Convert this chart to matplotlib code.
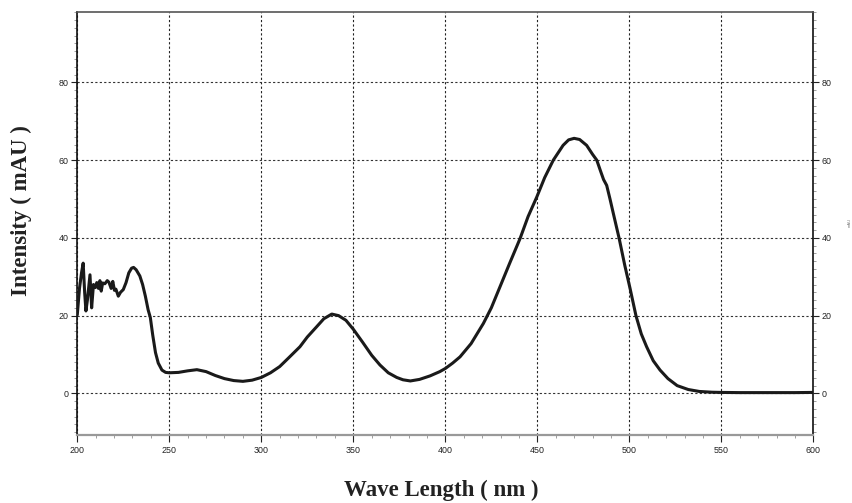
#!/usr/bin/env python
"""UV-Vis absorption spectrum (Intensity vs wave length)."""

import matplotlib

matplotlib.use("Agg")
import matplotlib.pyplot as plt
from matplotlib.ticker import MultipleLocator

# spectrum
wavelength = [
    200.0, 201.2, 202.3, 203.2, 204.0, 204.7, 205.5, 206.9, 207.8, 208.8,
    209.8, 210.6, 211.5, 212.3, 213.0, 213.8, 215.0, 216.3, 217.2, 218.4,
    219.3, 220.2, 221.0, 222.3, 223.5, 225.0, 226.5, 228.0, 229.5, 230.6,
    232.0, 234.0, 235.5, 237.0, 238.5, 239.7, 241.0, 242.5, 244.0, 246.0,
    248.0, 250.0, 255.0, 260.0, 265.0, 270.0, 275.0, 280.0, 285.0, 290.0,
    295.0, 300.0, 305.0, 310.0, 315.0, 321.0, 325.0, 330.0, 334.0, 338.3,
    342.0, 346.0, 350.0, 355.0, 360.0, 364.5, 369.0, 373.6, 377.0, 381.0,
    386.0, 391.7, 397.0, 400.0, 404.0, 408.0, 414.0, 420.7, 425.0, 429.7,
    435.0, 440.6, 445.0, 449.7, 454.0, 458.7, 464.0, 467.0, 470.0, 473.0,
    476.8, 480.0, 482.3, 484.5, 486.0, 487.7, 489.5, 491.3, 494.5, 497.5,
    500.4, 503.6, 506.5, 509.4, 513.0, 516.7, 521.0, 526.0, 532.0, 538.0,
    545.0, 550.0, 560.0, 575.0, 590.0, 600.0,
]
intensity = [
    20.2, 27.0, 31.0, 33.5, 26.0, 21.2, 24.0, 30.5, 22.0, 28.0,
    27.2, 28.5, 27.0, 29.0, 26.3, 28.4, 28.2, 29.0, 28.6, 27.0,
    28.8, 26.5, 26.8, 25.0, 26.0, 26.7, 28.5, 31.0, 32.2, 32.4,
    31.8, 30.2, 28.0, 25.0, 21.5, 19.5, 15.0, 10.5, 7.8, 6.0,
    5.4, 5.3, 5.4, 5.8, 6.1, 5.6, 4.6, 3.8, 3.3, 3.1,
    3.4, 4.1, 5.3, 6.9, 9.2, 12.0, 14.5, 17.1, 19.2, 20.4,
    20.0, 18.8, 16.5, 13.2, 9.8, 7.3, 5.3, 4.1, 3.5, 3.2,
    3.6, 4.5, 5.6, 6.4, 7.8, 9.4, 12.8, 18.0, 22.0, 27.4,
    33.5, 39.8, 45.5, 50.5, 55.5, 60.0, 63.8, 65.2, 65.6, 65.3,
    63.8, 61.5, 60.0, 57.0, 55.0, 53.5, 50.0, 46.3, 39.8, 33.0,
    27.0, 20.0, 15.3, 12.0, 8.4, 6.0, 3.8, 2.0, 1.0, 0.5,
    0.3, 0.25, 0.2, 0.2, 0.2, 0.25,
]
x_ticks = [200, 250, 300, 350, 400, 450, 500, 550, 600]
y_ticks = [0, 20, 40, 60, 80]

fig = plt.figure(figsize=(8.53, 5.03), dpi=100, facecolor="white")
ax = fig.add_axes([0.0906, 0.1352, 0.8629, 0.8410])

ax.plot(wavelength, intensity, color="#1a1a1a", lw=2.2,
        solid_joinstyle="round", solid_capstyle="round", zorder=3)

ax.set_xlim(200, 600)
ax.set_ylim(-10.7, 98.1)
ax.set_xticks(x_ticks)
ax.set_yticks(y_ticks)
ax.xaxis.set_minor_locator(MultipleLocator(10))
ax.yaxis.set_minor_locator(MultipleLocator(2))

# dotted grid
ax.grid(True, which="major", axis="x", color="#222222", lw=0.8,
        linestyle=(0, (2, 2)))
ax.grid(True, which="major", axis="y", color="#333333", lw=0.8,
        linestyle=(0, (2, 2)))

ax.tick_params(axis="y", which="both", left=True, right=True,
               labelleft=True, labelright=True, direction="out",
               color="#222222", labelcolor="#222222", pad=2, labelsize=6.4)
ax.tick_params(axis="y", which="major", length=4, width=0.8)
ax.tick_params(axis="y", which="minor", length=2.5, width=0.5, color="#777777")
ax.tick_params(axis="x", which="both", direction="out", color="#777777",
               labelcolor="#222222", pad=3, labelsize=6.4)
ax.tick_params(axis="x", which="major", length=5, width=0.8, color="#222222")
ax.tick_params(axis="x", which="minor", length=2.5, width=0.5)
for lab in ax.get_xticklabels() + ax.get_yticklabels():
    lab.set_fontfamily(["Liberation Sans", "DejaVu Sans"])

ax.spines["left"].set_color("#111111")
ax.spines["left"].set_linewidth(1.2)
ax.spines["right"].set_color("#111111")
ax.spines["right"].set_linewidth(1.2)
ax.spines["top"].set_color("#555555")
ax.spines["top"].set_linewidth(1.2)
ax.spines["bottom"].set_color("#999999")
ax.spines["bottom"].set_linewidth(1.6)

label_font = dict(family=["Liberation Serif", "DejaVu Serif"],
                  fontweight="bold", fontsize=16.5, color="#222222")
ax.set_xlabel("Wave Length ( nm )", va="center", ha="center", **label_font)
ax.set_ylabel("Intensity ( mAU )", va="center", ha="center", **label_font)
ax.xaxis.set_label_coords(0.494, -0.132)
ax.yaxis.set_label_coords(-0.0765, 0.531)

fig.text(0.9965, 0.558, "mAU", rotation=90, fontsize=3, color="#777777",
         ha="center", va="center", family=["Liberation Sans", "DejaVu Sans"])

fig.savefig("out.png", dpi=100, facecolor="white")
plt.close(fig)
